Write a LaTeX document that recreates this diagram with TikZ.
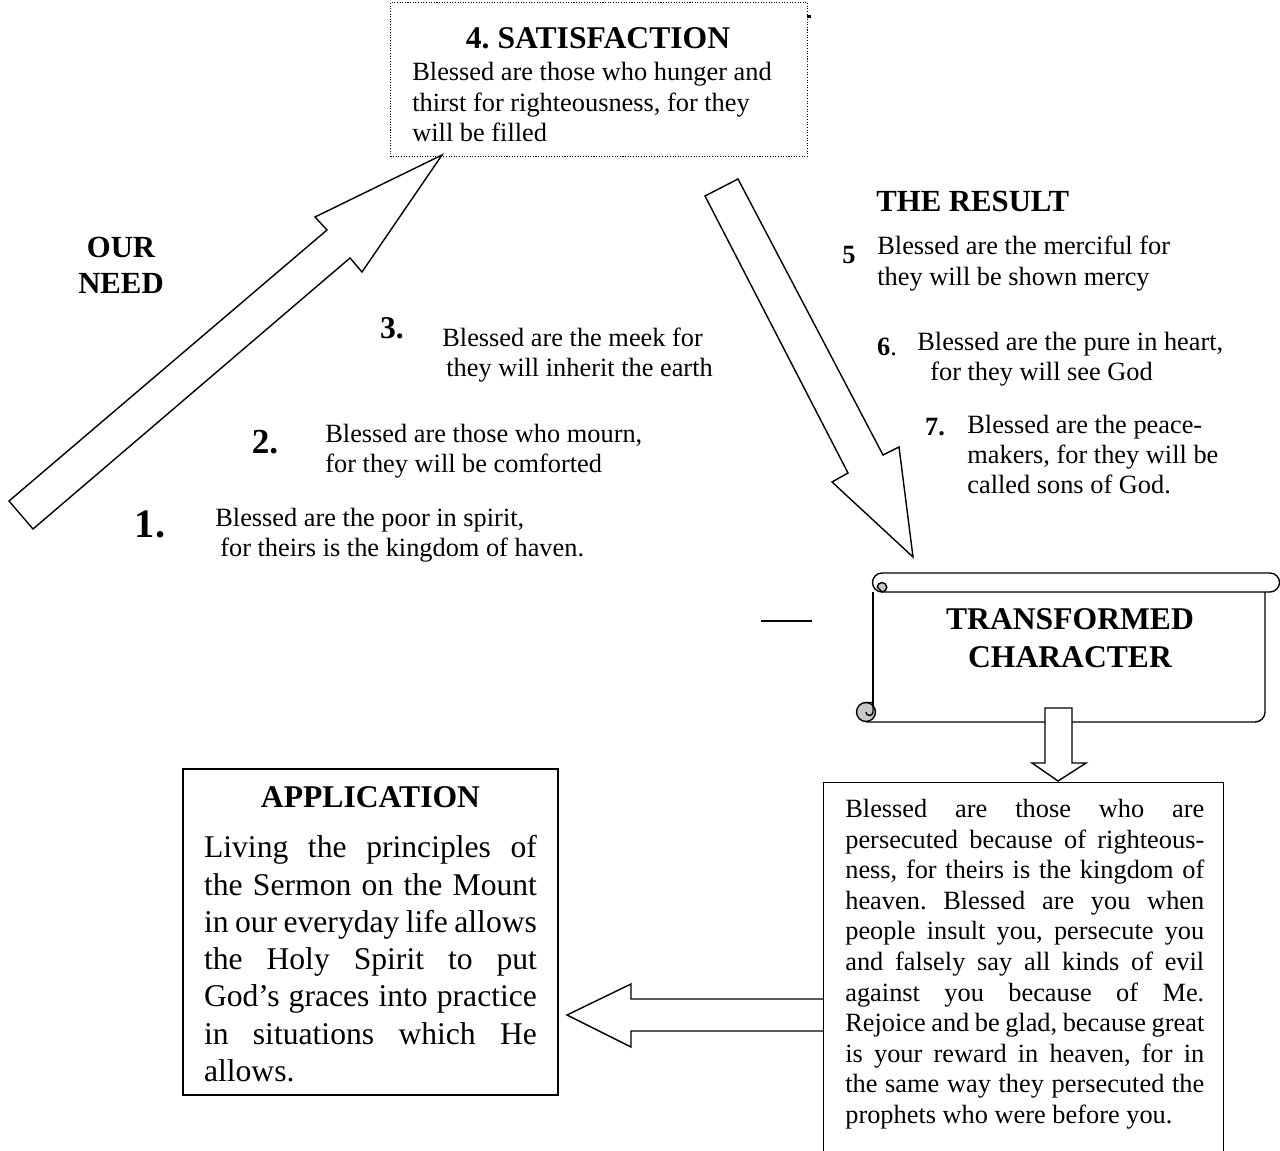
\documentclass[tikz,border=0pt]{standalone}
\usepackage{fontspec}
\setmainfont{Liberation Serif}
\usepackage{tikz}
\usetikzlibrary{
	positioning
}

\definecolor{curlgray}{RGB}{200,200,200}
\AtBeginDocument{\frenchspacing}

\begin{document}
\begin{tikzpicture}[
		x=0.02cm, y=-0.02cm,
		outline/.style  = {draw=black,line width=0.8pt,fill=white},
		frame/.style    = {draw=black,line width=0.8pt,inner sep=0pt},
		dotframe/.style = {draw=black,line width=0.6pt,dash pattern=on 0.6pt off 0.9pt,inner sep=0pt},
		heading/.style  = {font=\bfseries\fontsize{18}{21.6}\selectfont,inner sep=0pt,align=center},
		blessing/.style = {font=\fontsize{15}{17.2}\selectfont,inner sep=0pt,align=left,anchor=west},
		bignum/.style   = {font=\bfseries\fontsize{#1}{#1}\selectfont,inner sep=0pt},
		parabox/.style  = {inner sep=0pt,align=justify}
	]
	\useasboundingbox (0,0) rectangle (1280,1151);
	\clip (0,0) rectangle (1280,1151);

	% top: satisfaction
	\node [dotframe,anchor=north west,minimum width=8.34cm,minimum height=3.08cm] (satbox) at (390,2) {};
	\node [heading]  (sathead) at (598,38)  {4. SATISFACTION};
	\node [blessing] (hunger)  at (412,102) {Blessed are those who hunger and\\thirst for righteousness, for they\\will be filled};
	\fill (807,15) rectangle (811,18);

	% the two big arrows
	\draw [outline] (9,501) -- (327,230) -- (315,217) -- (442,155) -- (362,272) -- (350,258) -- (33,529) -- cycle;
	\draw [outline] (705,196) -- (738,179) -- (883,455) -- (899,447) -- (913,557) -- (832,482) -- (848,473) -- cycle;

	% our need
	\node [heading,font=\bfseries\fontsize{17.5}{20.5}\selectfont] (ourneed) at (121,265) {OUR\\NEED};
	\node [bignum=18] (n3) at (392,328) {3.};
	\node [blessing]  (meek)  at (442,355)   {Blessed are the meek for\\\hspace*{0.08cm}they will inherit the earth};
	\node [bignum=20] (n2) at (265,442) {2.};
	\node [blessing]  (mourn) at (325,451.5) {Blessed are those who mourn,\\for they will be comforted};
	\node [bignum=23] (n1) at (150,524) {1.};
	\node [blessing]  (poor)  at (215,535)   {Blessed are the poor in spirit,\\\hspace*{0.1cm}for theirs is the kingdom of haven.};

	% the result
	\node [heading,anchor=west,font=\bfseries\fontsize{17.5}{20.5}\selectfont] (result) at (876,201) {THE RESULT};
	\node [bignum=15] (n5) at (849,255) {5};
	\node [blessing]  (merciful) at (877,263.5) {Blessed are the merciful for\\they will be shown mercy};
	\node [bignum=15] (n6) at (887,347) {6\mdseries.};
	\node [blessing]  (pure)  at (917,359.5) {Blessed are the pure in heart,\\\hspace*{0.26cm}for they will see God};
	\node [bignum=15] (n7) at (935,427) {7.};
	\node [blessing]  (peace) at (967,454.5) {Blessed are the peace-\\makers, for they will be\\called sons of God.};

	\draw [line width=1.3pt] (761,621) -- (812,621);

	% scroll
	\draw [outline] (882,573) -- (1270,573) arc (-90:90:9.5) -- (882,592) arc (90:270:9.5) -- cycle;
	\filldraw [fill=curlgray,line width=0.8pt] (882,592) arc (90:-90:4.75) arc (270:180:4.75) -- cycle;
	\draw [line width=0.8pt] (873,592) -- (873,712);
	\draw [line width=0.8pt] (1265,592) -- (1265,712) arc (0:90:10) -- (866,722);
	\filldraw [fill=curlgray,line width=0.8pt] (866,712) circle (9.5);
	\draw [line width=0.8pt] (866,702.5) -- (873,702.5) -- (873,712) arc (0:180:3.5);
	\node [heading] (transformed) at (1070,638) {TRANSFORMED\\CHARACTER};

	% persecuted
	\draw [outline] (823,999) -- (631,999) -- (631,984) -- (567,1015) -- (631,1047) -- (631,1031) -- (823,1031);
	\draw [outline] (1045,708) -- (1072,708) -- (1072,763) -- (1086,763) -- (1058,781) -- (1032,763) -- (1045,763) -- cycle;
	\node [frame,anchor=north west,minimum width=8cm,minimum height=8cm] (persbox) at (823,782) {};
	\node [parabox,text width=7.18cm,anchor=north west,font=\fontsize{15}{17.4}\selectfont] (persecuted) at (845,799) {\noindent
		Blessed are those who are\linebreak
		persecuted because of righteous-\linebreak
		ness, for theirs is the kingdom of\linebreak
		heaven. Blessed are you when\linebreak
		people insult you, persecute you\linebreak
		and falsely say all kinds of evil\linebreak
		against you because of Me.\linebreak
		Rejoice and be glad, because great\linebreak
		is your reward in heaven, for in\linebreak
		the same way they persecuted the\linebreak
		prophets who were before you.};

	% application
	\node [frame,minimum width=7.5cm,minimum height=6.52cm] (appbox) at (370.5,932) {};
	\node [heading,below=0.35cm of appbox.north] (apphead) {APPLICATION};
	\node [parabox,text width=6.66cm,below=0.55cm of apphead,font=\fontsize{18}{21.2}\selectfont] (application) {\noindent
		Living the principles of\linebreak
		the Sermon on the Mount\linebreak
		in our everyday life allows\linebreak
		the Holy Spirit to put\linebreak
		God's graces into practice\linebreak
		in situations which He\linebreak
		allows.};
\end{tikzpicture}
\end{document}
